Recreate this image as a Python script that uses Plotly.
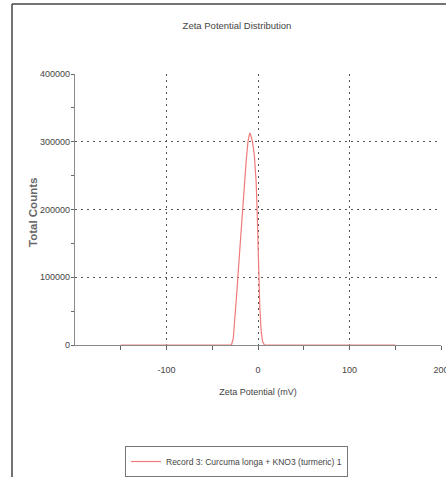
import plotly.graph_objects as go

# Data
zeta_mv = [-150, -29, -27, -25, -23, -21, -18, -15, -13, -11, -10, -9, -8, -6, -4, -2,
           -1, 0, 1, 2, 3.5, 5, 7, 150]
total_counts = [0, 0, 10000, 40000, 80000, 120000, 180000, 230000, 270000, 300000, 310000,
                313000, 310000, 300000, 280000, 240000, 200000, 150000, 100000, 55000,
                20000, 5000, 0, 0]
series_name = "Record 3: Curcuma longa + KNO3 (turmeric) 1"
x_ticks = [-100, 0, 100, 200]
y_ticks = [0, 100000, 200000, 300000, 400000]

FONT = "Liberation Sans, Arial, sans-serif"
TXT = "#444444"

fig = go.Figure()
fig.add_trace(go.Scatter(x=zeta_mv, y=total_counts, mode="lines", name=series_name,
                         line=dict(color="#f07a7a", width=1.2)))

FX0 = (12 - 75) / 366
FY1 = 1 + (74 - 4) / 271
fig.update_layout(
    width=446, height=477,
    margin=dict(l=75, r=5, t=74, b=132, autoexpand=False),
    paper_bgcolor="white", plot_bgcolor="white",
    font=dict(family=FONT, size=9, color=TXT),
    title=dict(text="Zeta Potential Distribution", x=237 / 446, xanchor="center",
               y=1 - 26 / 477, yanchor="middle", yref="container",
               font=dict(family=FONT, size=9.5, color="#444444")),
    showlegend=True,
    legend=dict(x=(125 - 75) / 366, xanchor="left", y=-(446 - 345) / 271, yanchor="top",
                bordercolor="#777777", borderwidth=1, bgcolor="white",
                itemwidth=30, tracegroupgap=0,
                font=dict(family=FONT, size=8.5, color=TXT)),
    shapes=[
        dict(type="line", xref="paper", yref="paper", x0=FX0, x1=FX0, y0=-0.6, y1=FY1,
             line=dict(color="#444444", width=1.5), layer="below"),
        dict(type="line", xref="paper", yref="paper", x0=FX0, x1=1.1, y0=FY1, y1=FY1,
             line=dict(color="#444444", width=1.5), layer="below"),
    ],
    annotations=[dict(text="<b>Total Counts</b>", textangle=-90, xref="paper", yref="paper",
                      x=(33 - 75) / 366, y=(345 - 213) / 271, xanchor="center",
                      yanchor="middle", showarrow=False,
                      font=dict(family=FONT, size=11.5, color="#666666"))],
)

fig.update_xaxes(
    range=[-200, 200], tickvals=x_ticks, ticktext=[str(v) for v in x_ticks],
    showline=True, linecolor="#8a8a8a", linewidth=1.2, automargin=False,
    ticks="outside", ticklen=4, tickcolor="#666666", ticklabelstandoff=12,
    ticklabeloverflow="allow",
    minor=dict(tickvals=[-150, -50, 50, 150], ticks="outside", ticklen=4, tickcolor="#666666"),
    showgrid=True, gridcolor="#555555", gridwidth=1, griddash="2px,4px",
    zeroline=False,
    title=dict(text="Zeta Potential (mV)", standoff=14,
               font=dict(family=FONT, size=9, color=TXT)),
    tickfont=dict(family=FONT, size=9, color=TXT),
)
fig.update_yaxes(
    range=[0, 400000], tickvals=y_ticks, ticktext=[str(v) for v in y_ticks],
    showline=True, linecolor="#8a8a8a", linewidth=1.2, automargin=False,
    ticks="outside", ticklen=3, tickcolor="#666666", ticklabelstandoff=-1,
    minor=dict(tickvals=[50000, 150000, 250000, 350000], ticks="outside", ticklen=3,
               tickcolor="#666666"),
    showgrid=True, gridcolor="#555555", gridwidth=1, griddash="2px,4px",
    zeroline=False,
    tickfont=dict(family=FONT, size=9, color=TXT),
)

fig.write_html("out.html")
